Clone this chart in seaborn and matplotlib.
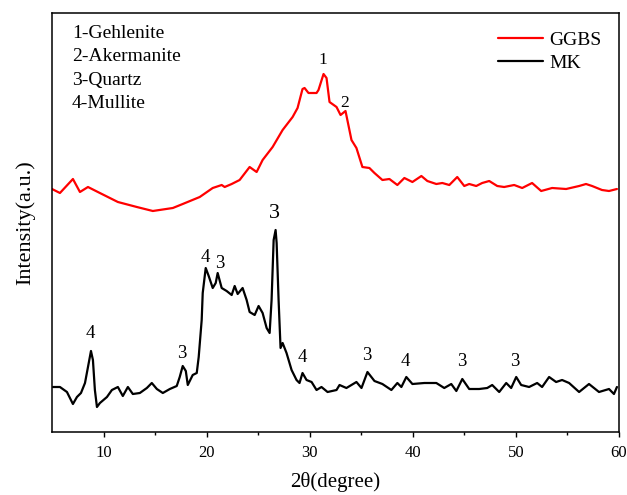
import numpy as np
import pandas as pd
import matplotlib
matplotlib.use("Agg")
import matplotlib.pyplot as plt
import seaborn as sns

# ---- data (2θ in degrees, intensity in arbitrary units) ----
ggbs_x = [5.00, 5.77, 7.03, 7.71, 8.49, 9.45, 11.39, 13.23, 14.78, 16.72, 17.68, 19.33,
          20.59, 21.46, 21.75, 22.43, 23.20, 24.17, 24.85, 25.43, 26.40, 27.37, 28.34,
          28.82, 29.30, 29.50, 29.88, 30.66, 30.85, 31.34, 31.63, 31.92, 32.60, 32.99,
          33.47, 34.05, 34.53, 35.11, 35.79, 36.28, 37.05, 37.73, 38.50, 39.18, 39.96,
          40.83, 41.41, 42.28, 42.86, 43.54, 44.31, 44.99, 45.47, 46.15, 46.73, 47.41,
          48.19, 48.86, 49.83, 50.61, 51.57, 52.45, 53.51, 54.87, 56.13, 56.80, 57.39,
          58.35, 59.03, 59.80]
ggbs_y = [243, 239, 253, 240, 245, 240, 230, 225, 221, 224, 228, 235,
          244, 247, 245, 248, 252, 265, 260, 272, 285, 302, 315,
          324, 343, 344, 339, 339, 342, 358, 354, 330, 325, 317,
          321, 292, 284, 265, 264, 259, 252, 253, 247, 254, 250,
          256, 251, 248, 249, 247, 255, 246, 248, 246, 249, 251,
          246, 245, 247, 244, 249, 241, 244, 243, 246, 248, 246,
          242, 241, 243]

mk_x = [5.10, 5.77, 6.45, 7.03, 7.42, 7.81, 8.20, 8.49, 8.78, 8.97, 9.16, 9.36, 9.65,
        10.33, 10.81, 11.39, 11.87, 12.36, 12.84, 13.52, 14.20, 14.68, 15.17, 15.75,
        16.43, 17.10, 17.39, 17.68, 17.98, 18.17, 18.65, 19.04, 19.23, 19.52, 19.62,
        19.91, 20.20, 20.59, 20.88, 21.07, 21.46, 21.94, 22.43, 22.72, 23.01, 23.49,
        23.88, 24.17, 24.66, 25.04, 25.43, 25.82, 26.11, 26.30, 26.50, 26.69, 26.79,
        26.98, 27.17, 27.37, 27.75, 28.24, 28.72, 29.01, 29.30, 29.69, 30.18, 30.66,
        31.14, 31.73, 32.60, 32.89, 33.56, 34.53, 35.02, 35.60, 36.28, 37.05, 37.92,
        38.50, 38.89, 39.37, 39.96, 41.12, 42.28, 43.05, 43.73, 44.22, 44.80, 45.47,
        46.44, 47.22, 47.70, 48.38, 49.06, 49.54, 50.03, 50.51, 51.28, 52.06, 52.54,
        53.22, 53.90, 54.48, 55.16, 56.13, 57.09, 58.06, 59.03, 59.51, 59.80]
mk_y = [45, 45, 40, 28, 35, 39, 49, 65, 81, 72, 42, 25, 29,
        35, 42, 45, 36, 45, 38, 39, 44, 49, 43, 39,
        43, 46, 55, 66, 61, 47, 57, 59, 75, 112, 139,
        164, 156, 144, 149, 159, 144, 141, 137, 146, 138, 144,
        132, 120, 117, 126, 119, 104, 99, 132, 192, 202, 189,
        132, 84, 89, 79, 62, 52, 49, 59, 52, 50, 42,
        45, 40, 42, 47, 44, 50, 44, 60, 51, 48, 42,
        49, 45, 55, 48, 49, 49, 44, 48, 41, 53, 43,
        43, 44, 47, 40, 49, 44, 55, 47, 45, 49, 45,
        55, 50, 52, 49, 40, 48, 40, 43, 38, 45]

phase_legend = ["1-Gehlenite", "2-Akermanite", "3-Quartz", "4-Mullite"]

peak_labels = ["1", "2", "4", "3", "4", "3", "3", "4", "3", "4", "3", "3"]
peak_x = [31.24, 33.37, 8.68, 17.59, 19.91, 21.27, 26.59, 29.30, 35.50, 39.28, 44.70, 49.93]
peak_y = [372, 329, 99, 78, 175, 169, 218, 75, 77, 70, 70, 70]
peak_size = [12.5, 12.5, 13.5, 13.5, 13.5, 13.5, 16, 13.5, 13.5, 13.5, 13.5, 13.5]

series_names = ["GGBS", "MK"]
series_colors = ["#ff0000", "#000000"]

# ---- style ----
sns.set_style("ticks")
plt.rcParams["font.family"] = ["Liberation Serif", "DejaVu Serif"]
plt.rcParams["text.color"] = "black"
plt.rcParams["axes.labelcolor"] = "black"
plt.rcParams["xtick.color"] = "black"
plt.rcParams["ytick.color"] = "black"

fig = plt.figure(figsize=(6.27, 4.95), dpi=100)
ax = fig.add_axes([52 / 627, 63 / 495, 567 / 627, 419 / 495])

df_g = pd.DataFrame({"x": ggbs_x, "y": ggbs_y})
df_m = pd.DataFrame({"x": mk_x, "y": mk_y})
sns.lineplot(data=df_g, x="x", y="y", ax=ax, color=series_colors[0], lw=1.6,
             label=series_names[0], estimator=None, sort=False)
sns.lineplot(data=df_m, x="x", y="y", ax=ax, color=series_colors[1], lw=1.6,
             label=series_names[1], estimator=None, sort=False)

ax.set_xlim(5, 60)
ax.set_ylim(0, 419)
ax.set_xticks([10, 20, 30, 40, 50, 60])
ax.set_xticks([15, 25, 35, 45, 55], minor=True)
ax.set_yticks([])
ax.tick_params(axis="x", which="major", direction="out", length=3.5, width=1.0,
               labelsize=12, colors="black", pad=6)
ax.tick_params(axis="x", which="minor", direction="out", length=2.2, width=1.0)
for s in ax.spines.values():
    s.set_visible(True)
    s.set_linewidth(1.1)
    s.set_color("black")

ax.set_xlabel("2θ(degree)", fontsize=15, labelpad=8, color="black")
ax.set_ylabel("Intensity(a.u.)", fontsize=16, labelpad=12, color="black")

for i, t in enumerate(phase_legend):
    ax.text(0.035, 0.95 - i * 0.055, t, transform=ax.transAxes, fontsize=14,
            ha="left", va="center", color="black")

for lab, px, py, fs in zip(peak_labels, peak_x, peak_y, peak_size):
    ax.text(px, py, lab, fontsize=fs, ha="center", va="center", color="black")

leg = ax.legend(loc="upper right", bbox_to_anchor=(0.99, 0.985), frameon=False, fontsize=14,
                handlelength=2.3, handletextpad=0.35, labelspacing=0.3, borderaxespad=0.2)
for txt in leg.get_texts():
    txt.set_color("black")

fig.savefig("out.png", dpi=100)
